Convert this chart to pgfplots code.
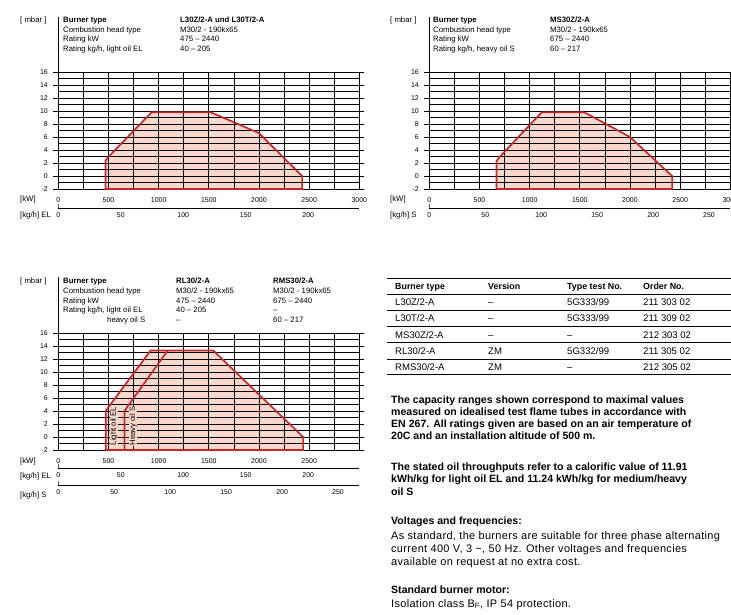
\documentclass[border=0pt]{standalone}
\usepackage{fontspec}
\setmainfont{Liberation Sans}
\usepackage{pgfplots}
\pgfplotsset{compat=1.18}
\definecolor{fillc}{HTML}{F9D7CA}
\definecolor{edgec}{HTML}{C0282D}
\pgfplotsset{
 mainax/.style={
  scale only axis, width=301bp, height=117bp, anchor=south west,
  xmin=0,xmax=3000,ymin=-2,ymax=16,
  xtick={0,500,...,3000},
  ytick={-2,0,...,16},
  axis line style={black, line width=0.7bp},
  tick align=outside, major tick length=5bp,
  xtick style={draw=none},
  ytick style={black, line width=0.7bp},
  ticklabel style={font=\fontsize{7}{8}\selectfont},
  yticklabel style={xshift=-2bp},
  /pgf/number format/assume math mode=true,
  /pgf/number format/1000 sep={},
 },
 secax/.style={
  scale only axis, width=301bp, height=5bp, anchor=south west,
  ymin=0,ymax=1, axis x line*=bottom, axis y line=none,
  xtick style={draw=none},
  axis line style={black, line width=0.7bp},
  ticklabel style={font=\fontsize{7}{8}\selectfont, yshift=-1.5bp},
  /pgf/number format/assume math mode=true,
 },
 edge/.style={draw=edgec, line width=1.7bp, line join=miter},
 areafill/.style={fill=fillc, draw=none},
}
\newcommand{\hd}{\fontsize{7.8}{9}\selectfont}
\newcommand{\tb}{\fontsize{9.6}{11}\selectfont}
\newcommand{\tbb}{\fontsize{8.9}{10}\selectfont\bfseries}
\newcommand{\gridlines}{%
 \pgfplotsinvokeforeach{-1,...,15}{\draw[black,line width=0.7bp] (axis cs:0,##1) -- (axis cs:3000,##1);}%
 \pgfplotsinvokeforeach{250,500,...,2750}{\draw[black,line width=0.7bp] (axis cs:##1,-2) -- (axis cs:##1,16);}%
}
\begin{document}
\begin{tikzpicture}
\useasboundingbox (0bp,0bp) rectangle (731bp,-615bp);
% ---------------- chart 1 ----------------
\begin{axis}[mainax, at={(58.3bp,-189bp)}]
\addplot[areafill] coordinates {(470,-2) (470,2.4) (510,3.1) (930,9.8) (1520,9.8) (2000,6.6) (2430,0) (2430,-2) (470,-2)};
\gridlines
\addplot[edge] coordinates {(470,-2) (470,2.4) (510,3.1) (930,9.8) (1520,9.8) (2000,6.6) (2430,0) (2430,-2) (470,-2)};
\end{axis}
\begin{axis}[secax, at={(58.3bp,-208bp)}, xmin=0, xmax=240.8, xtick={0,50,...,200}]
\draw[line width=0.7bp] (axis cs:0,0) -- ++(0pt,4bp);
\end{axis}
% ---------------- chart 2 ----------------
\begin{axis}[mainax, at={(429.3bp,-189bp)}]
\addplot[areafill] coordinates {(670,-2) (670,2.3) (705,3.0) (1120,9.8) (1545,9.8) (2000,6.0) (2420,0) (2420,-2) (670,-2)};
\gridlines
\addplot[edge] coordinates {(670,-2) (670,2.3) (705,3.0) (1120,9.8) (1545,9.8) (2000,6.0) (2420,0) (2420,-2) (670,-2)};
\end{axis}
\begin{axis}[secax, at={(429.3bp,-208bp)}, xmin=0, xmax=269, xtick={0,50,...,250}]
\draw[line width=0.7bp] (axis cs:0,0) -- ++(0pt,4bp);
\end{axis}
% ---------------- chart 3 ----------------
\begin{axis}[mainax, at={(58.3bp,-450bp)}, xtick={0,500,...,2500}]
\addplot[areafill] coordinates {(472,-2) (472,4.0) (510,4.8) (920,13.3) (1545,13.3) (2440,0) (2440,-2) (472,-2)};
\gridlines
\addplot[edge] coordinates {(472,-2) (472,4.0) (510,4.8) (920,13.3) (1545,13.3) (2440,0) (2440,-2) (472,-2)};
\addplot[edge] coordinates {(660,-2) (660,4.0) (700,4.9) (1090,13.3)};
\node[rotate=90,font=\hd,fill=fillc,inner sep=0.6bp] at (axis cs:555,1.7) {Light oil EL};
\node[rotate=90,font=\hd,fill=fillc,inner sep=0.6bp] at (axis cs:745,1.7) {Heavy oil S};
\end{axis}
\begin{axis}[secax, at={(58.3bp,-468bp)}, xmin=0, xmax=240.8, xtick={0,50,...,200}]
\draw[line width=0.7bp] (axis cs:0,0) -- ++(0pt,4bp);
\end{axis}
\begin{axis}[secax, at={(58.3bp,-485bp)}, xmin=0, xmax=269, xtick={0,50,...,250}]
\draw[line width=0.7bp] (axis cs:0,0) -- ++(0pt,4bp);
\end{axis}
\begin{scope}[x=1bp,y=-1bp]
\draw[line width=0.7bp] (58.3,17) -- (58.3,72);
\draw[line width=0.7bp] (429.3,17) -- (429.3,72);
\draw[line width=0.7bp] (58.3,277) -- (58.3,333);
\begin{scope}[every node/.style={anchor=base west,inner sep=0pt,font=\hd}]
% chart 1 header
\node at (20,22.8) {[ mbar ]};
\node[font=\hd\bfseries] at (63,22.8) {Burner type};
\node[font=\hd\bfseries] at (180,22.8) {L30Z/2-A und L30T/2-A};
\node at (63,32.1) {Combustion head type};
\node at (180,32.1) {M30/2 - 190kx65};
\node at (63,41.1) {Rating kW};
\node at (180,41.1) {475 – 2440};
\node at (63,51.1) {Rating kg/h, light oil EL};
\node at (180,51.1) {40 – 205};
\node at (20,201.8) {[kW]};
\node at (20,217.8) {[kg/h] EL};
% chart 2 header
\node at (390,22.8) {[ mbar ]};
\node[font=\hd\bfseries] at (433,22.8) {Burner type};
\node[font=\hd\bfseries] at (550,22.8) {MS30Z/2-A};
\node at (433,32.1) {Combustion head type};
\node at (550,32.1) {M30/2 - 190kx65};
\node at (433,41.1) {Rating kW};
\node at (550,41.1) {675 – 2440};
\node at (433,51.1) {Rating kg/h, heavy oil S};
\node at (550,51.1) {60 – 217};
\node at (390,201.8) {[kW]};
\node at (390,217.8) {[kg/h] S};
% chart 3 header
\node at (20,283.5) {[ mbar ]};
\node[font=\hd\bfseries] at (63,283.5) {Burner type};
\node[font=\hd\bfseries] at (176,283.5) {RL30/2-A};
\node[font=\hd\bfseries] at (273,283.5) {RMS30/2-A};
\node at (63,293.5) {Combustion head type};
\node at (176,293.5) {M30/2 - 190kx65};
\node at (273,293.5) {M30/2 - 190kx65};
\node at (63,303.1) {Rating kW};
\node at (176,303.1) {475 – 2440};
\node at (273,303.1) {675 – 2440};
\node at (63,312.8) {Rating kg/h, light oil EL};
\node at (176,312.8) {40 – 205};
\node at (273,312.8) {–};
\node at (107,322.8) {heavy oil S};
\node at (176,322.8) {–};
\node at (273,322.8) {60 – 217};
\node at (20,463.8) {[kW]};
\node at (20,478.8) {[kg/h] EL};
\node at (20,497.8) {[kg/h] S};
\end{scope}
% ---------------- table ----------------
\draw[line width=1.3bp] (387,278.5) -- (731,278.5);
\draw[line width=1.3bp] (387,374.5) -- (731,374.5);
\foreach \yy in {294.1,310.3,326.5,342.7,358.9} {\draw[line width=0.5bp] (387,\yy) -- (731,\yy);}
\begin{scope}[every node/.style={anchor=base west,inner sep=0pt}]
\foreach \xx/\tx in {395/Burner type, 488/Version, 567/Type test No., 643/Order No.}
  {\node[font=\tbb] at (\xx,289) {\tx};}
\foreach \yy/\a/\b/\c/\d in {305.7/L30Z\slash 2-A/–/5G333\slash 99/211 303 02,
                              321.9/L30T\slash 2-A/–/5G333\slash 99/211 309 02,
                              338.1/MS30Z\slash 2-A/–/–/212 303 02,
                              354.3/RL30\slash 2-A/ZM/5G332\slash 99/211 305 02,
                              370.5/RMS30\slash 2-A/ZM/–/212 305 02}
{\node[font=\tb] at (395,\yy) {\a};
 \node[font=\tb] at (488,\yy) {\b};
 \node[font=\tb] at (567,\yy) {\c};
 \node[font=\tb] at (643,\yy) {\d};}
\end{scope}
% ---------------- paragraphs ----------------
\begin{scope}[every node/.style={anchor=base west,inner sep=0pt,font=\fontsize{10.6}{12}\selectfont\bfseries}]
\node at (391,403.8) {The capacity ranges shown correspond to maximal values};
\node at (391,415.8) {measured on idealised test flame tubes in accordance with};
\node at (391,427.8) {EN 267. All ratings given are based on an air temperature of};
\node at (391,439.8) {20C and an installation altitude of 500 m.};
\node at (391,470.8) {The stated oil throughputs refer to a calorific value of 11.91};
\node at (391,482.8) {kWh/kg for light oil EL and 11.24 kWh/kg for medium/heavy};
\node at (391,495.8) {oil S};
\node at (391,524.8) {Voltages and frequencies:};
\node at (391,593.8) {Standard burner motor:};
\end{scope}
\begin{scope}[every node/.style={anchor=base west,inner sep=0pt,font=\fontsize{11}{12}\selectfont\addfontfeatures{LetterSpace=3}}]
\node at (391,539) {As standard, the burners are suitable for three phase alternating};
\node at (391,552) {current 400 V, 3 \textasciitilde, 50 Hz. Other voltages and frequencies};
\node at (391,565) {available on request at no extra cost.};
\node at (391,607) {Isolation class B\textsubscript{F}, IP 54 protection.};
\end{scope}
\end{scope}
\end{tikzpicture}
\end{document}
